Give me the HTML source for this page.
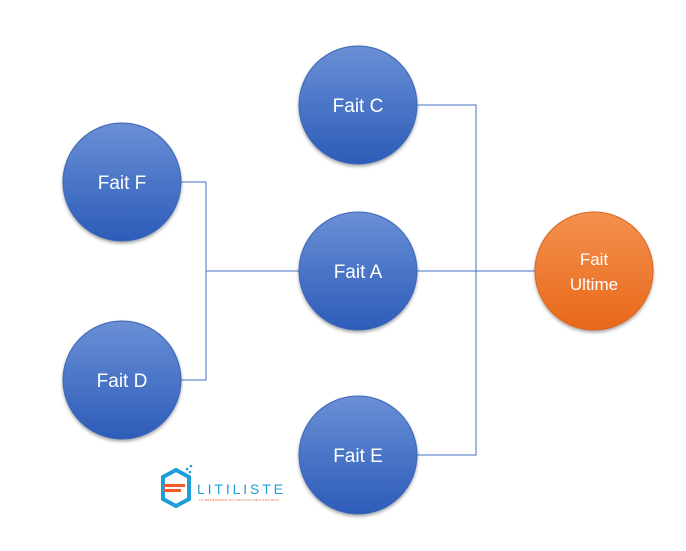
<!DOCTYPE html>
<html><head><style>body{margin:0;background:#fff}</style></head><body>
<svg width="686" height="546" xmlns="http://www.w3.org/2000/svg" font-family="Liberation Sans, sans-serif">
<defs>
<linearGradient id="b" x1="0" y1="0" x2="0" y2="1"><stop offset="0" stop-color="#6a8fd6"/><stop offset="1" stop-color="#2c5cb8"/></linearGradient>
<linearGradient id="o" x1="0" y1="0" x2="0" y2="1"><stop offset="0" stop-color="#f4914f"/><stop offset="1" stop-color="#e8681a"/></linearGradient>
<filter id="s" x="-20%" y="-20%" width="140%" height="140%"><feDropShadow dx="0" dy="2" stdDeviation="1.5" flood-opacity="0.35"/></filter>
</defs>
<g stroke="#4472c4" stroke-width="1" fill="none">
<polyline points="181,182 206,182 206,380 181,380"/>
<line x1="206" y1="271" x2="299" y2="271"/>
<polyline points="417,105 476,105 476,455 417,455"/>
<line x1="417" y1="271" x2="535" y2="271"/>
</g>
<g filter="url(#s)">
<circle cx="358" cy="105" r="59" fill="url(#b)" stroke="#3a66b8"/>
<circle cx="122" cy="182" r="59" fill="url(#b)" stroke="#3a66b8"/>
<circle cx="358" cy="271" r="59" fill="url(#b)" stroke="#3a66b8"/>
<circle cx="122" cy="380" r="59" fill="url(#b)" stroke="#3a66b8"/>
<circle cx="358" cy="455" r="59" fill="url(#b)" stroke="#3a66b8"/>
<circle cx="594" cy="271" r="59" fill="url(#o)" stroke="#d9661f"/>
</g>
<g fill="#fff" font-size="19" text-anchor="middle">
<text x="358" y="112">Fait C</text>
<text x="122" y="189">Fait F</text>
<text x="358" y="278">Fait A</text>
<text x="122" y="387">Fait D</text>
<text x="358" y="462">Fait E</text>
<text x="594" y="265" font-size="17">Fait</text>
<text x="594" y="290" font-size="17">Ultime</text>
</g>
<g>
<polygon points="176,470 189,477 189,499 176,506 163,499 163,477" fill="none" stroke="#1f9fd8" stroke-width="4"/>
<rect x="163" y="484" width="22" height="3" fill="#f05a28"/>
<rect x="163" y="489" width="18" height="3" fill="#f05a28"/>
<circle cx="187" cy="469" r="1.3" fill="#1f9fd8"/><circle cx="191" cy="466" r="1.3" fill="#1f9fd8"/><circle cx="190" cy="472" r="1.3" fill="#1f9fd8"/>
<text x="197" y="494" font-size="14" fill="#1f9fd8" textLength="86" lengthAdjust="spacing">LITILISTE</text>
<text x="199" y="501" font-size="3" fill="#f05a28" textLength="80">LA RÉFÉRENCE EN GESTION DES PROJETS</text>
</g>
</svg>
</body></html>
